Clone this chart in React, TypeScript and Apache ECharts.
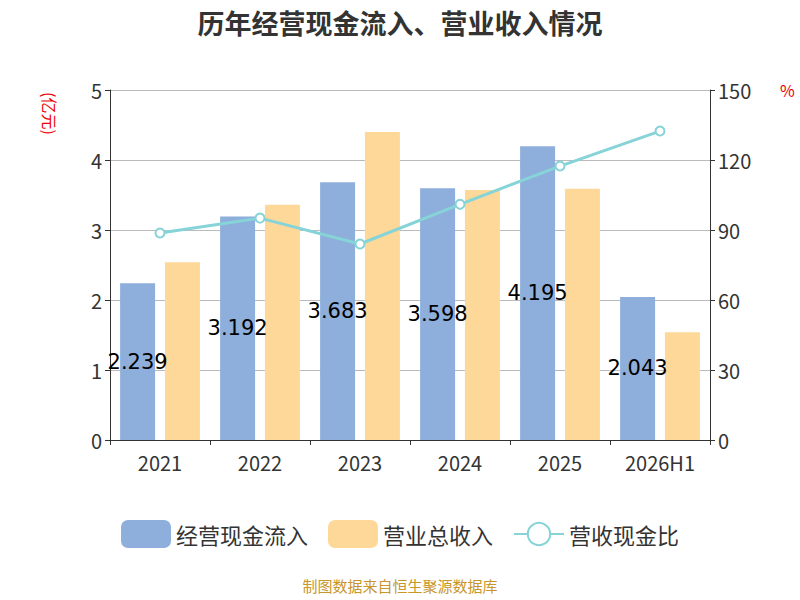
import React, { useEffect, useRef } from 'react';
import * as echarts from 'echarts';

const categories = ['2021', '2022', '2023', '2024', '2025', '2026H1'];
const cashInflow = [2.239, 3.192, 3.683, 3.598, 4.195, 2.043];
const revenue = [2.54, 3.36, 4.4, 3.57, 3.59, 1.54];
const ratio = [88.7, 95.1, 84, 101, 117.4, 132.4];

const App: React.FC = () => {
  const chartRef = useRef<HTMLDivElement>(null);

  useEffect(() => {
    const chart = echarts.init(chartRef.current!, null, { renderer: 'svg' });
    const font = 'Noto Sans CJK SC';
    chart.setOption({
      animation: false,
      textStyle: { fontFamily: font },
      title: {
        text: '历年经营现金流入、营业收入情况',
        left: 'center',
        top: 4,
        textStyle: { fontSize: 27, fontWeight: 'bold', color: '#333' },
      },
      graphic: [
        {
          type: 'text',
          left: 'center',
          top: 578,
          style: { text: '制图数据来自恒生聚源数据库', fill: '#c8962a', fontSize: 15, fontFamily: font },
        },
        {
          type: 'text',
          x: 58,
          y: 92,
          rotation: -Math.PI / 2,
          style: { text: '(亿元)', fill: '#e00', fontSize: 16, fontFamily: font },
        },
      ],
      legend: {
        top: 515,
        itemWidth: 50,
        itemHeight: 28,
        itemGap: 20,
        textStyle: { fontSize: 22, color: '#333' },
        data: [
          { name: '经营现金流入', itemStyle: { borderRadius: 6 } },
          { name: '营业总收入', itemStyle: { borderRadius: 6 } },
          '营收现金比',
        ],
      },
      grid: { left: 110, right: 90, top: 90, bottom: 160 },
      xAxis: {
        type: 'category',
        data: categories,
        axisLine: { lineStyle: { color: '#333' } },
        axisTick: { show: true },
        axisLabel: { fontSize: 20, color: '#333', margin: 12 },
      },
      yAxis: [
        {
          type: 'value',
          min: 0,
          max: 5,
          interval: 1,
          axisLine: { show: true, lineStyle: { color: '#333' } },
          axisTick: { show: true },
          axisLabel: { fontSize: 20, color: '#333' },
          splitLine: { lineStyle: { color: '#bbb' } },
        },
        {
          type: 'value',
          min: 0,
          max: 150,
          interval: 30,
          name: '%',
          nameLocation: 'end',
          nameGap: -8,
          nameTextStyle: { color: '#e00', fontSize: 16, align: 'left', padding: [0, 0, 0, 70] },
          axisLine: { show: true, lineStyle: { color: '#333' } },
          axisTick: { show: true },
          axisLabel: { fontSize: 20, color: '#333' },
          splitLine: { show: false },
        },
      ],
      series: [
        {
          name: '经营现金流入',
          type: 'bar',
          data: cashInflow,
          barWidth: 35,
          barGap: '28%',
          itemStyle: { color: '#8eaedb' },
          label: { show: true, position: 'inside', color: '#000', fontSize: 21, fontFamily: 'DejaVu Sans' },
        },
        {
          name: '营业总收入',
          type: 'bar',
          data: revenue,
          barWidth: 35,
          itemStyle: { color: '#fed898' },
        },
        {
          name: '营收现金比',
          type: 'line',
          yAxisIndex: 1,
          data: ratio,
          symbol: 'circle',
          symbolSize: 9,
          lineStyle: { color: '#86d3d8', width: 3 },
          itemStyle: { color: '#fff', borderColor: '#86d3d8', borderWidth: 2 },
        },
      ],
    });
    return () => chart.dispose();
  }, []);

  return (
    <div
      ref={chartRef}
      style={{ position: 'absolute', left: 0, top: 0, width: 800, height: 600 }}
    />
  );
};

export default App;
